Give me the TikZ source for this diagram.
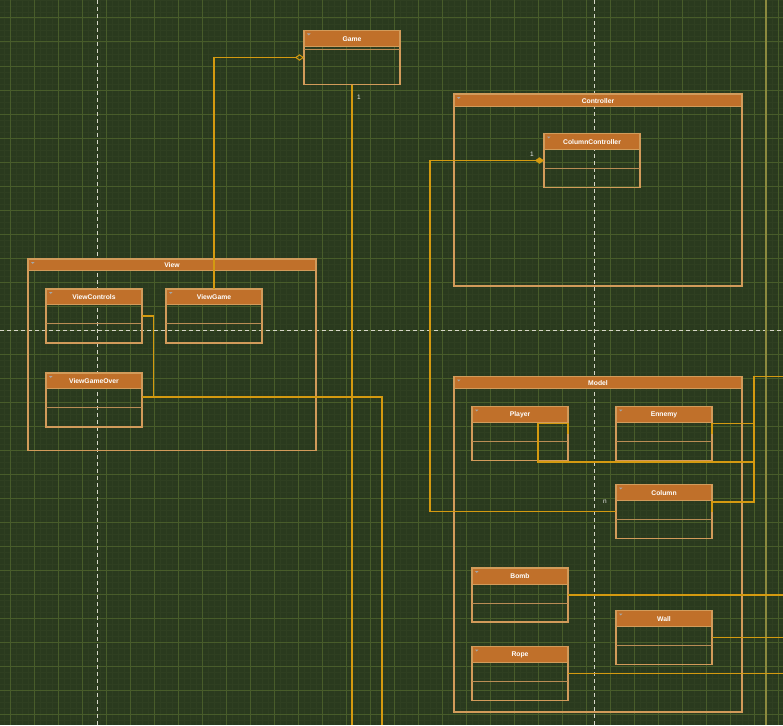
\documentclass[tikz,border=0pt]{standalone}
\usepackage{fontspec}
\setmainfont{Liberation Sans}
\usetikzlibrary{arrows.meta,calc}
\definecolor{bgc}{RGB}{42,58,30}
\definecolor{gminc}{RGB}{47,63,33}
\definecolor{gmajc}{RGB}{72,92,42}
\definecolor{hdrc}{RGB}{192,112,42}
\definecolor{boxc}{RGB}{210,155,90}
\definecolor{sepc}{RGB}{185,140,85}
\definecolor{linec}{RGB}{212,154,16}
\definecolor{olivec}{RGB}{140,138,62}
\definecolor{dashc}{RGB}{215,215,200}
\tikzset{
  gminor/.style={draw=gminc,line width=0.6pt},
  gmajor/.style={draw=gmajc,line width=1pt},
  guide/.style={draw=dashc,line width=0.9pt,dash pattern=on 4pt off 3pt},
  boxnode/.style={draw=boxc,line width=1.2pt,inner sep=0pt,outer sep=0pt,rectangle},
  ttl/.style={text=white,font=\bfseries\fontsize{6.8}{7}\selectfont,inner sep=0pt},
  conn/.style={draw=linec,line width=1.4pt},
  lbl/.style={text=white!85!gray,font=\fontsize{6.5}{7}\selectfont,inner sep=0pt},
}
\newcommand\umlbox[8]{%
  \fill[hdrc] (#2,#3) rectangle (#4,#6);
  \node[boxnode,minimum width={(#4-#2)*1pt},minimum height={(#5-#3)*1pt}] (#1) at ({(#2+#4)/2},{(#3+#5)/2}) {};
  \draw[boxc,line width=1pt] (#2,#6) -- (#4,#6);
  \ifx&#7&\else\draw[sepc,line width=1pt] (#2,#7) -- (#4,#7);\fi
  \node[ttl] (#1-t) at ({(#2+#4)/2},{(#3+#6)/2+0.5}) {#8};
  \fill[gray!70] (#2+3,#3+3) -- (#2+6.5,#3+3) -- (#2+4.75,#3+5) -- cycle;
}
\begin{document}
\begin{tikzpicture}[x=1pt,y=-1pt]
\useasboundingbox (0,0) rectangle (783,725);
\fill[bgc] (0,0) rectangle (783,725);
% grid
\foreach \x in {4,10,...,782} \draw[gminor] (\x,0) -- (\x,725);
\foreach \y in {0,6,...,724} \draw[gminor] (0,\y) -- (783,\y);
\foreach \x in {10,34,...,782} \draw[gmajor] (\x,0) -- (\x,725);
\foreach \y in {18,42,...,724} \draw[gmajor] (0,\y) -- (783,\y);
% guides
\draw[guide] (97.5,0) -- (97.5,725);
\draw[guide] (594,0) -- (594,725);
\draw[guide] (0,330) -- (783,330);
\draw[olivec,line width=2pt] (766,0) -- (766,725);
% packages
\umlbox{ctrl}{454}{94}{742}{286}{106.5}{}{Controller}
\umlbox{view}{28}{259}{316}{450.5}{270.5}{}{View}
\umlbox{model}{454}{376.5}{742}{712}{388.5}{}{Model}
% classes
\umlbox{game}{304}{30.5}{400}{84.5}{47}{49.5}{Game}
\umlbox{cc}{544}{133.5}{640}{187.5}{149.5}{168.5}{ColumnController}
\umlbox{vc}{46}{289}{142}{343}{304.5}{323.5}{ViewControls}
\umlbox{vg}{166}{289}{262}{343}{304.5}{323.5}{ViewGame}
\umlbox{vgo}{46}{373}{142}{427}{388.5}{407.5}{ViewGameOver}
\umlbox{pl}{472}{406.5}{568}{460.5}{422.5}{441.5}{Player}
\umlbox{en}{616}{406.5}{712}{460.5}{422.5}{441.5}{Ennemy}
\umlbox{col}{616}{484.5}{712}{538.5}{500}{519}{Column}
\umlbox{bomb}{472}{568}{568}{622}{584}{603}{Bomb}
\umlbox{wall}{616}{610.5}{712}{664.5}{626.5}{645.5}{Wall}
\umlbox{rope}{472}{646.5}{568}{700.5}{662}{681.5}{Rope}
% free ends
\coordinate (gameEnd) at (352,725);
\coordinate (viewEnd) at (382,725);
\coordinate (edgeTop) at (783,376.5);
\coordinate (bombEnd) at (783,595);
\coordinate (wallEnd) at (783,637.5);
\coordinate (ropeEnd) at (783,673.5);
% connectors
\draw[conn,-{Diamond[open,length=9pt,width=6.5pt,line width=1pt]}] (vg.north) |- (game.west);
\draw[conn] (game.south) -- (gameEnd);
\node[lbl] (l1) at (359,97.5) {1};
\draw[conn,-{Diamond[length=9pt,width=6.5pt]}] (col.west) -- (430,511.5) -- (430,160.5) -- (cc.west);
\node[lbl] (l2) at (532,154) {1};
\node[lbl] (l3) at (605,502) {n};
\draw[conn] (vc.east) -- (153.5,316) -- (153.5,397) -- (382,397) -- (viewEnd);
\draw[conn] ($(vgo.east)+(0,-3)$) -- (153.5,397);
\draw[conn] (pl.east) -- (568,423.5) -- (538,423.5) -- (538,462) -- (754,462) -- (754,376.5) -- (edgeTop);
\draw[conn] (en.east) -- (712,423.5) -- (754,423.5);
\draw[conn] (col.east) -- (712,502) -- (754,502) -- (754,462);
\draw[conn] (bomb.east) -- (bombEnd);
\draw[conn] (wall.east) -- (wallEnd);
\draw[conn] (rope.east) -- (ropeEnd);
\end{tikzpicture}
\end{document}
